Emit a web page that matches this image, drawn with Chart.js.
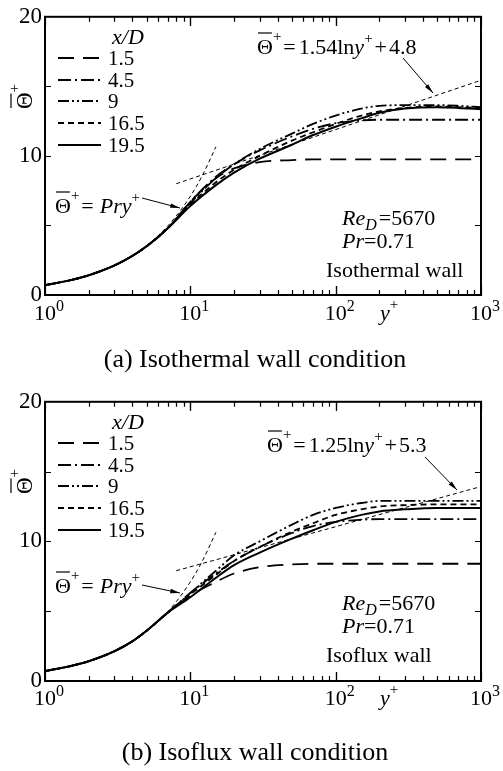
<!DOCTYPE html>
<html>
<head>
<meta charset="utf-8">
<script src="https://cdn.jsdelivr.net/npm/chart.js@4"></script>
<style>
  body { margin: 0; background: #fff; }
  canvas { display: block; }
</style>
</head>
<body>
<canvas id="chartA" width="503" height="385"></canvas>
<canvas id="chartB" width="503" height="386"></canvas>
<script>
// y+ positions shared by every profile
const yPlus = [1, 1.5, 2, 3, 4, 5, 7, 10, 15, 20, 30, 50, 70, 100, 150, 200, 300, 500, 700, 1000];
const xOverD = ["1.5", "4.5", "9", "16.5", "19.5"];

// (a) isothermal wall
const isoT_15 = [0.71, 1.07, 1.42, 2.12, 2.82, 3.5, 4.8, 6.7, 8.4, 9.1, 9.55, 9.7, 9.75, 9.75, 9.75, 9.75, 9.75, 9.75, 9.75, 9.75];
const isoT_45 = [0.71, 1.07, 1.42, 2.12, 2.82, 3.5, 4.8, 6.7, 8.5, 9.4, 10.4, 11.4, 11.95, 12.35, 12.55, 12.6, 12.6, 12.6, 12.6, 12.6];
const isoT_9 = [0.71, 1.07, 1.42, 2.12, 2.82, 3.5, 4.8, 6.6, 8.4, 9.4, 10.5, 11.6, 12.3, 12.9, 13.4, 13.6, 13.65, 13.65, 13.6, 13.5];
const isoT_165 = [0.71, 1.07, 1.42, 2.12, 2.82, 3.5, 4.8, 6.5, 8.1, 9.0, 10.0, 11.1, 11.7, 12.3, 12.9, 13.2, 13.45, 13.55, 13.5, 13.45];
const isoT_195 = [0.71, 1.07, 1.42, 2.12, 2.82, 3.5, 4.8, 6.4, 7.9, 8.8, 9.8, 10.8, 11.5, 12.1, 12.7, 13.1, 13.4, 13.5, 13.45, 13.35];

// (b) isoflux wall
const isoF_15 = [0.71, 1.07, 1.42, 2.13, 2.85, 3.6, 4.9, 6.1, 7.1, 7.7, 8.15, 8.35, 8.4, 8.4, 8.4, 8.4, 8.4, 8.4, 8.4, 8.4];
const isoF_45 = [0.71, 1.07, 1.42, 2.13, 2.85, 3.6, 4.9, 6.3, 7.7, 8.6, 9.6, 10.6, 11.1, 11.4, 11.55, 11.6, 11.6, 11.6, 11.6, 11.6];
const isoF_9 = [0.71, 1.07, 1.42, 2.13, 2.85, 3.6, 4.9, 6.3, 7.9, 9.0, 10.0, 11.2, 11.9, 12.4, 12.75, 12.9, 12.9, 12.9, 12.9, 12.9];
const isoF_165 = [0.71, 1.07, 1.42, 2.13, 2.85, 3.6, 4.9, 6.2, 7.6, 8.6, 9.6, 10.7, 11.3, 11.9, 12.3, 12.5, 12.6, 12.65, 12.65, 12.65];
const isoF_195 = [0.71, 1.07, 1.42, 2.13, 2.85, 3.6, 4.9, 6.0, 7.4, 8.3, 9.2, 10.2, 10.8, 11.4, 11.9, 12.15, 12.3, 12.4, 12.4, 12.4];

// reference laws
const linY = [5, 6, 7, 8, 10, 12, 15];
const linTheta = [3.55, 4.26, 4.97, 5.68, 7.1, 8.52, 10.65];
const logY = [8, 1000];
const logThetaA = [8.0, 15.44];
const logThetaB = [7.9, 13.93];

const xTickValues = [1, 10, 100, 1000];
const xTickExps = ["0", "1", "2", "3"];
const yTickValues = [0, 10, 20];

const SERIF = "'Liberation Serif', 'DejaVu Serif', serif";
const dashes = [[16, 9], [13, 4, 2, 4], [11, 3, 2, 3, 2, 3], [6, 4], []];

const pts = (xs, ys) => xs.map((x, i) => ({ x: x, y: ys[i] }));

// draw a run of text pieces (for overlines, sub/superscripts)
const rich = (ctx, x, y, parts) => {
    ctx.textAlign = "left";
    ctx.textBaseline = "alphabetic";
    parts.forEach((p) => {
        ctx.font = (p.it ? "italic " : "") + (p.size || 22) + "px " + SERIF;
        ctx.fillText(p.t, x, y + (p.dy || 0));
        const w = ctx.measureText(p.t).width;
        if (p.over) {
            ctx.beginPath();
            ctx.lineWidth = 1.2;
            ctx.moveTo(x + 1, y + p.over);
            ctx.lineTo(x + w - 1, y + p.over);
            ctx.stroke();
        }
        x += w + (p.gap || 0);
    });
    return x;
};

const arrow = (ctx, x1, y1, x2, y2) => {
    ctx.save();
    ctx.lineWidth = 1;
    ctx.setLineDash([]);
    ctx.beginPath();
    ctx.moveTo(x1, y1);
    ctx.lineTo(x2, y2);
    ctx.stroke();
    const a = Math.atan2(y2 - y1, x2 - x1);
    ctx.beginPath();
    ctx.moveTo(x2, y2);
    ctx.lineTo(x2 - 10 * Math.cos(a - 0.22), y2 - 10 * Math.sin(a - 0.22));
    ctx.lineTo(x2 - 10 * Math.cos(a + 0.22), y2 - 10 * Math.sin(a + 0.22));
    ctx.closePath();
    ctx.fill();
    ctx.restore();
};

const theta = (size) => [
    { t: "\u0398", over: -21, size: size },
    { t: "+", size: 15, dy: -13, gap: 2 }
];

const makeChart = (id, series, logTheta, opts) => {
    const ctx = document.getElementById(id).getContext("2d");

    const decor = {
        id: "decor",
        afterDraw: (chart) => {
            const c = chart.ctx;
            const a = chart.chartArea;
            const xs = chart.scales.x;
            const ys = chart.scales.y;
            c.save();
            c.strokeStyle = "#000";
            c.fillStyle = "#000";
            c.setLineDash([]);

            // frame
            c.lineWidth = 2;
            c.strokeRect(a.left, a.top, a.right - a.left, a.bottom - a.top);

            // inward ticks
            c.lineWidth = 1.2;
            for (let d = 1; d <= 100; d *= 10) {
                for (let m = 1; m <= 10; m++) {
                    const px = Math.round(xs.getPixelForValue(d * m)) + 0.5;
                    const len = (m === 1 || m === 10) ? 9 : 5;
                    c.beginPath();
                    c.moveTo(px, a.bottom); c.lineTo(px, a.bottom - len);
                    c.moveTo(px, a.top); c.lineTo(px, a.top + len);
                    c.stroke();
                }
            }
            [5, 10, 15].forEach((v) => {
                const py = Math.round(ys.getPixelForValue(v)) + 0.5;
                c.beginPath();
                c.moveTo(a.left, py); c.lineTo(a.left + 6, py);
                c.moveTo(a.right, py); c.lineTo(a.right - 6, py);
                c.stroke();
            });

            // x tick labels 10^n
            xTickValues.forEach((v, i) => {
                const px = xs.getPixelForValue(v);
                c.font = "22px " + SERIF;
                const w = c.measureText("10").width;
                rich(c, px - w / 2, 320, [{ t: "10" }, { t: xTickExps[i], size: 16, dy: -9 }]);
            });

            // legend
            c.font = "italic 22px " + SERIF;
            c.textBaseline = "middle";
            c.textAlign = "left";
            c.fillText("x/D", 112, 38);
            const rows = [58, 80, 101, 123, 145];
            xOverD.forEach((lab, i) => {
                c.save();
                c.lineWidth = i === 4 ? 2 : 1.8;
                c.setLineDash(dashes[i]);
                c.beginPath();
                c.moveTo(58, rows[i]);
                c.lineTo(101, rows[i]);
                c.stroke();
                c.restore();
                c.font = "21px " + SERIF;
                c.textBaseline = "middle";
                c.fillText(lab, 108, rows[i] + 1);
            });

            // log-law label and arrow
            rich(c, opts.eqX, opts.eqY, theta(22).concat([
                { t: "=", gap: 3 },
                { t: opts.eqA },
                { t: "ln" },
                { t: "y", it: true },
                { t: "+", size: 15, dy: -11, gap: 2 },
                { t: "+", gap: 2 },
                { t: opts.eqB }
            ]));
            arrow(c, opts.arr1[0], opts.arr1[1], opts.arr1[2], opts.arr1[3]);

            // linear-law label and arrow
            rich(c, 55, opts.linY, theta(22).concat([
                { t: "=", gap: 6 },
                { t: "Pry", it: true },
                { t: "+", size: 15, dy: -11 }
            ]));
            arrow(c, 142, opts.arr2[0], 180, opts.arr2[1]);

            // case info
            rich(c, 342, 225, [
                { t: "Re", it: true },
                { t: "D", it: true, size: 16, dy: 5, gap: 2 },
                { t: "=5670" }
            ]);
            rich(c, 342, 248, [{ t: "Pr", it: true }, { t: "=0.71" }]);
            c.font = "22px " + SERIF;
            c.fillText(opts.wall, 326, 277);

            // x axis name
            rich(c, 380, 320, [{ t: "y", it: true }, { t: "+", size: 15, dy: -11 }]);

            // y axis name (rotated)
            c.save();
            c.translate(32, 109);
            c.rotate(-Math.PI / 2);
            rich(c, 0, 0, [
                { t: "\u0398", over: -21, size: 23 },
                { t: "+", size: 15, dy: -13 }
            ]);
            c.restore();

            // caption
            c.font = "26px " + SERIF;
            c.textAlign = "center";
            c.textBaseline = "middle";
            c.fillText(opts.caption, 255, opts.capY);
            c.restore();
        }
    };

    const curves = series.map((s, i) => ({
        data: pts(yPlus, s),
        borderColor: "#000",
        borderWidth: i === 4 ? 2 : 1.8,
        borderDash: dashes[i],
        pointRadius: 0,
        cubicInterpolationMode: "monotone",
        fill: false
    }));
    const refs = [
        { data: pts(linY, linTheta) },
        { data: pts(logY, logTheta) }
    ].map((d) => Object.assign(d, {
        borderColor: "#000",
        borderWidth: 1,
        borderDash: [4, 3],
        pointRadius: 0,
        cubicInterpolationMode: "monotone",
        fill: false
    }));

    return new Chart(ctx, {
        type: "line",
        data: { datasets: curves.concat(refs) },
        options: {
            responsive: false,
            animation: false,
            devicePixelRatio: 1,
            layout: { padding: { left: 0, right: 22, top: 15, bottom: 0 } },
            plugins: { legend: { display: false }, tooltip: { enabled: false } },
            scales: {
                x: {
                    type: "logarithmic",
                    min: 1,
                    max: 1000,
                    afterBuildTicks: (s) => { s.ticks = xTickValues.map((v) => ({ value: v })); },
                    afterFit: (s) => { s.height = 90; },
                    grid: { display: false, drawTicks: false },
                    border: { display: false },
                    ticks: { display: false }
                },
                y: {
                    type: "linear",
                    min: 0,
                    max: 20,
                    afterBuildTicks: (s) => { s.ticks = yTickValues.map((v) => ({ value: v })); },
                    afterFit: (s) => { s.width = 45; },
                    grid: { display: false, drawTicks: false },
                    border: { display: false },
                    ticks: {
                        padding: 3,
                        color: "#000",
                        font: { family: SERIF, size: 23 },
                        callback: (v) => String(v)
                    }
                }
            }
        },
        plugins: [decor]
    });
};

makeChart("chartA", [isoT_15, isoT_45, isoT_9, isoT_165, isoT_195], logThetaA, {
    eqX: 257, eqY: 54, eqA: "1.54", eqB: "4.8",
    arr1: [403, 58, 433, 93],
    linY: 213, arr2: [198, 208],
    wall: "Isothermal wall",
    caption: "(a) Isothermal wall condition", capY: 360
});

makeChart("chartB", [isoF_15, isoF_45, isoF_9, isoF_165, isoF_195], logThetaB, {
    eqX: 267, eqY: 67, eqA: "1.25", eqB: "5.3",
    arr1: [425, 72, 457, 105],
    linY: 208, arr2: [200, 208],
    wall: "Isoflux wall",
    caption: "(b) Isoflux wall condition", capY: 368
});
</script>
</body>
</html>
